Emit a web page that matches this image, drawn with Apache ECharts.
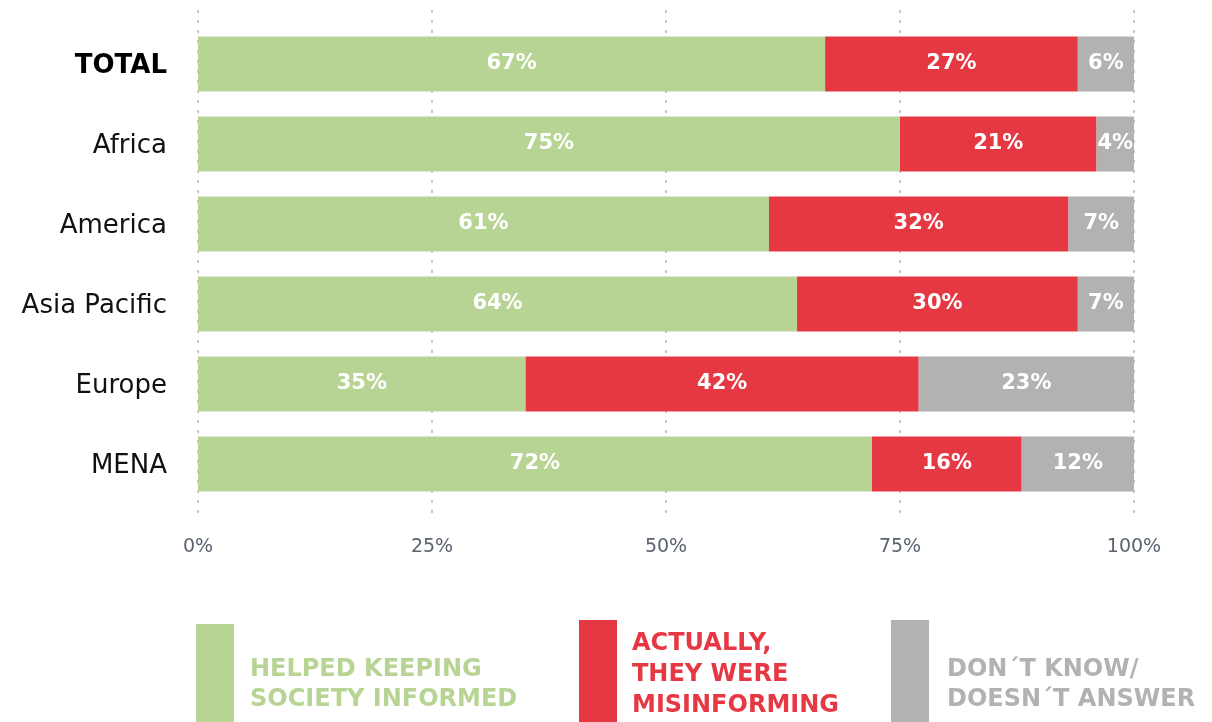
<!DOCTYPE html>
<html><head><meta charset="utf-8">
<script src="https://cdn.jsdelivr.net/npm/echarts@6/dist/echarts.min.js"></script>
<style>html,body{margin:0;padding:0;background:#fff}#c{width:1212px;height:722px}</style>
</head><body><div id="c"></div>
<script>
const categories = ['TOTAL', 'Africa', 'America', 'Asia Pacific', 'Europe', 'MENA'];
const helped = [67, 75, 61, 64, 35, 72];
const misinforming = [27, 21, 32, 30, 42, 16];
const dontKnow = [6, 4, 7, 7, 23, 12];
const xTicks = [0, 25, 50, 75, 100];
const seriesNames = ['HELPED KEEPING\nSOCIETY INFORMED', 'ACTUALLY,\nTHEY WERE\nMISINFORMING', 'DON´T KNOW/\nDOESN´T ANSWER'];
const colors = ['#b8d494', '#e63843', '#b2b2b2'];

const chart = echarts.init(document.getElementById('c'));
const FONT = '"DejaVu Sans", "Open Sans", sans-serif';
const labelStyle = {
  show: true, position: 'inside', color: '#fff', fontFamily: FONT,
  fontWeight: 'bold', fontSize: 21, formatter: p => p.value + '%'
};
function bar(name, data, color) {
  return { name, type: 'bar', stack: 's', data, barWidth: 55, xAxisIndex: 0, yAxisIndex: 0,
    itemStyle: { color }, label: labelStyle, emphasis: { disabled: true }, clip: true };
}
const legendGraphics = [];
const legendPos = [
  { x: 196, rectTop: 624, textX: 250, textY: 655, lh: 30 },
  { x: 579, rectTop: 620, textX: 632, textY: 628, lh: 31 },
  { x: 891, rectTop: 620, textX: 947, textY: 655, lh: 30 }
];
seriesNames.forEach((n, i) => {
  const p = legendPos[i];
  legendGraphics.push({ type: 'rect', left: p.x, top: p.rectTop, shape: { width: 38, height: 722 - p.rectTop }, style: { fill: colors[i] } });
  legendGraphics.push({ type: 'text', left: p.textX, top: p.textY,
    style: { text: n, fill: colors[i], font: 'bold 24px ' + FONT, lineHeight: p.lh } });
});

chart.setOption({
  animation: false,
  grid: [
    { left: 198, right: 78, top: 24, height: 480 },
    { left: 198, right: 78, top: 10, height: 508 }
  ],
  xAxis: [
    { gridIndex: 0, type: 'value', min: 0, max: 100, show: false },
    { gridIndex: 1, type: 'value', min: 0, max: 100, interval: 25,
      axisLine: { show: false }, axisTick: { show: false },
      splitLine: { show: true, lineStyle: { color: '#c8c8c8', width: 2, type: [3, 7] } },
      axisLabel: { margin: 20, color: '#5b6370', fontSize: 19, fontFamily: FONT, formatter: v => xTicks.includes(v) ? v + '%' : '' } }
  ],
  yAxis: [
    { gridIndex: 0, type: 'category', data: categories, inverse: true,
      axisLine: { show: false }, axisTick: { show: false }, splitLine: { show: false },
      axisLabel: { margin: 31, color: '#111', fontSize: 26, fontFamily: FONT, padding: [4, 0, 0, 0],
        formatter: v => v === 'TOTAL' ? '{b|' + v + '}' : v,
        rich: { b: { fontWeight: 'bold', fontSize: 26, fontFamily: FONT, color: '#000' } } } },
    { gridIndex: 1, type: 'value', show: false, min: 0, max: 1 }
  ],
  series: [
    bar(seriesNames[0], helped, colors[0]),
    bar(seriesNames[1], misinforming, colors[1]),
    bar(seriesNames[2], dontKnow, colors[2])
  ],
  graphic: legendGraphics
});
</script></body></html>
